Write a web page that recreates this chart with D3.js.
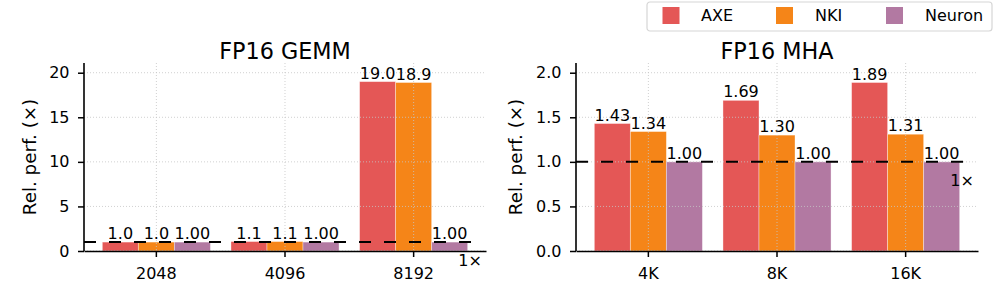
<!DOCTYPE html>
<html>
<head>
<meta charset="utf-8">
<script src="https://cdn.jsdelivr.net/npm/d3@7"></script>
<style>
  body { margin: 0; background: #fff; }
  svg { display: block; font-family: "DejaVu Sans", sans-serif; }
</style>
</head>
<body>
<div class="chart"></div>
<script>
// data
const series = ["AXE", "NKI", "Neuron"];
const colors = ["#e45756", "#f58518", "#b279a2"];

const gemmSizes = ["2048", "4096", "8192"];
const gemmAXE = [1.0, 1.06, 19.0];
const gemmNKI = [1.0, 1.06, 18.9];
const gemmNeuron = [1.0, 1.0, 1.0];
const gemmTicks = [0, 5, 10, 15, 20];

const mhaSizes = ["4K", "8K", "16K"];
const mhaAXE = [1.43, 1.69, 1.89];
const mhaNKI = [1.34, 1.30, 1.31];
const mhaNeuron = [1.0, 1.0, 1.0];
const mhaTicks = [0, 0.5, 1.0, 1.5, 2.0];

const W = 997, H = 302;

const svg = d3.select(".chart")
  .append("svg")
  .attr("width", W)
  .attr("height", H);

function Panel(opts) {
  const left = opts.left, top = 63, width = 402, height = 188;
  const g = svg.append("g")
    .attr("transform", `translate(${left},${top})`);

  const xScale = d3.scaleBand()
    .domain(opts.cats)
    .range([0, width])
    .paddingInner(0.16)
    .paddingOuter(0.1425);

  const inner = d3.scaleBand()
    .domain(series)
    .range([0, xScale.bandwidth()]);

  const yScale = d3.scaleLinear()
    .domain([0, opts.ymax])
    .range([height, 0]);

  const rows = [];
  opts.cats.forEach((c, i) => {
    opts.values.forEach((vals, s) => {
      rows.push({ cat: c, s: series[s], si: s, v: vals[i], fmt: opts.fmts[s] });
    });
  });

  // bars
  g.selectAll(".bar")
    .data(rows)
    .join("rect")
    .attr("class", "bar")
    .attr("x", d => xScale(d.cat) + inner(d.s))
    .attr("width", inner.bandwidth())
    .attr("y", d => yScale(d.v))
    .attr("height", d => height - yScale(d.v))
    .attr("fill", d => colors[d.si])
    .attr("stroke", "#fff")
    .attr("stroke-opacity", 0.45)
    .attr("stroke-width", 0.8);

  // grid (drawn faintly over the bars)
  const grid = g.append("g")
    .attr("stroke", "#c4c4c4")
    .attr("stroke-opacity", 0.8)
    .attr("stroke-width", 1)
    .attr("stroke-dasharray", "1,2");
  grid.selectAll(".hg")
    .data(opts.ticks)
    .join("line")
    .attr("x1", 0).attr("x2", width)
    .attr("y1", d => yScale(d)).attr("y2", d => yScale(d));
  grid.selectAll(".vg")
    .data(opts.cats)
    .join("line")
    .attr("x1", d => xScale(d) + xScale.bandwidth() / 2)
    .attr("x2", d => xScale(d) + xScale.bandwidth() / 2)
    .attr("y1", 0).attr("y2", height);

  // value labels
  g.selectAll(".lbl")
    .data(rows)
    .join("text")
    .attr("class", "lbl")
    .attr("x", d => xScale(d.cat) + inner(d.s) + inner.bandwidth() / 2)
    .attr("y", d => yScale(d.v) - 3)
    .attr("text-anchor", "middle")
    .attr("font-size", 16)
    .text(d => d3.format(d.fmt)(d.v));

  // 1x baseline
  const lastCat = opts.cats[opts.cats.length - 1];
  const xEnd = xScale(lastCat) + xScale.bandwidth() / 2 + xScale.step() / 2;
  g.append("line")
    .attr("x1", 0).attr("x2", xEnd)
    .attr("y1", yScale(1)).attr("y2", yScale(1))
    .attr("stroke", "#000")
    .attr("stroke-width", 2)
    .attr("stroke-dasharray", "12,13");
  g.append("text")
    .attr("x", xEnd + 4)
    .attr("y", yScale(1) + 24)
    .attr("text-anchor", "end")
    .attr("font-size", 16)
    .text("1×");

  // axes
  const xAxis = d3.axisBottom(xScale).tickSize(6).tickSizeOuter(0).tickPadding(11);
  const yAxis = d3.axisLeft(yScale).tickValues(opts.ticks).tickSize(6).tickSizeOuter(0)
    .tickPadding(8.5).tickFormat(d3.format(opts.yfmt));

  const gx = g.append("g")
    .attr("class", "axis x-axis")
    .attr("transform", `translate(0,${height})`)
    .call(xAxis);
  const gy = g.append("g")
    .attr("class", "axis y-axis")
    .call(yAxis);
  gy.select(".domain").attr("d", `M0,0V${height}`);
  [gx, gy].forEach(a => {
    a.selectAll("text").attr("font-size", 16).attr("font-family", "DejaVu Sans").attr("fill", "#000");
    a.selectAll("line").attr("stroke-width", 1.5).attr("stroke", "#000");
    a.select(".domain").attr("stroke-width", 1.6).attr("stroke", "#000");
  });

  g.append("text")
    .attr("transform", `translate(${opts.labelX},${height / 2}) rotate(-90)`)
    .attr("text-anchor", "middle")
    .attr("dy", "0.35em")
    .attr("font-size", 18.3)
    .text("Rel. perf. (×)");

  g.append("text")
    .attr("x", width / 2)
    .attr("y", -4)
    .attr("text-anchor", "middle")
    .attr("font-size", 22.3)
    .text(opts.title);
}

Panel({
  left: 84, cats: gemmSizes, values: [gemmAXE, gemmNKI, gemmNeuron],
  fmts: [".1f", ".1f", ".2f"], ymax: 21.09, ticks: gemmTicks, yfmt: "d",
  title: "FP16 GEMM", labelX: -54
});
Panel({
  left: 576, cats: mhaSizes, values: [mhaAXE, mhaNKI, mhaNeuron],
  fmts: [".2f", ".2f", ".2f"], ymax: 2.109, ticks: mhaTicks, yfmt: ".1f",
  title: "FP16 MHA", labelX: -60.5
});

// legend
const legend = svg.append("g").attr("transform", "translate(647,2)");
legend.append("rect")
  .attr("width", 345).attr("height", 29)
  .attr("rx", 3)
  .attr("fill", "#fff")
  .attr("stroke", "#d6d6d6")
  .attr("stroke-width", 1.2);
const legendX = [15.5, 129, 239];
const item = legend.selectAll(".item")
  .data(series)
  .join("g")
  .attr("class", "item")
  .attr("transform", (d, i) => `translate(${legendX[i]},0)`);
item.append("rect")
  .attr("y", 5)
  .attr("width", 17).attr("height", 17)
  .attr("fill", (d, i) => colors[i]);
item.append("text")
  .attr("x", (d, i) => [38.5, 39, 39][i])
  .attr("y", 18.8)
  .attr("font-size", 16)
  .text(d => d);
</script>
</body>
</html>
